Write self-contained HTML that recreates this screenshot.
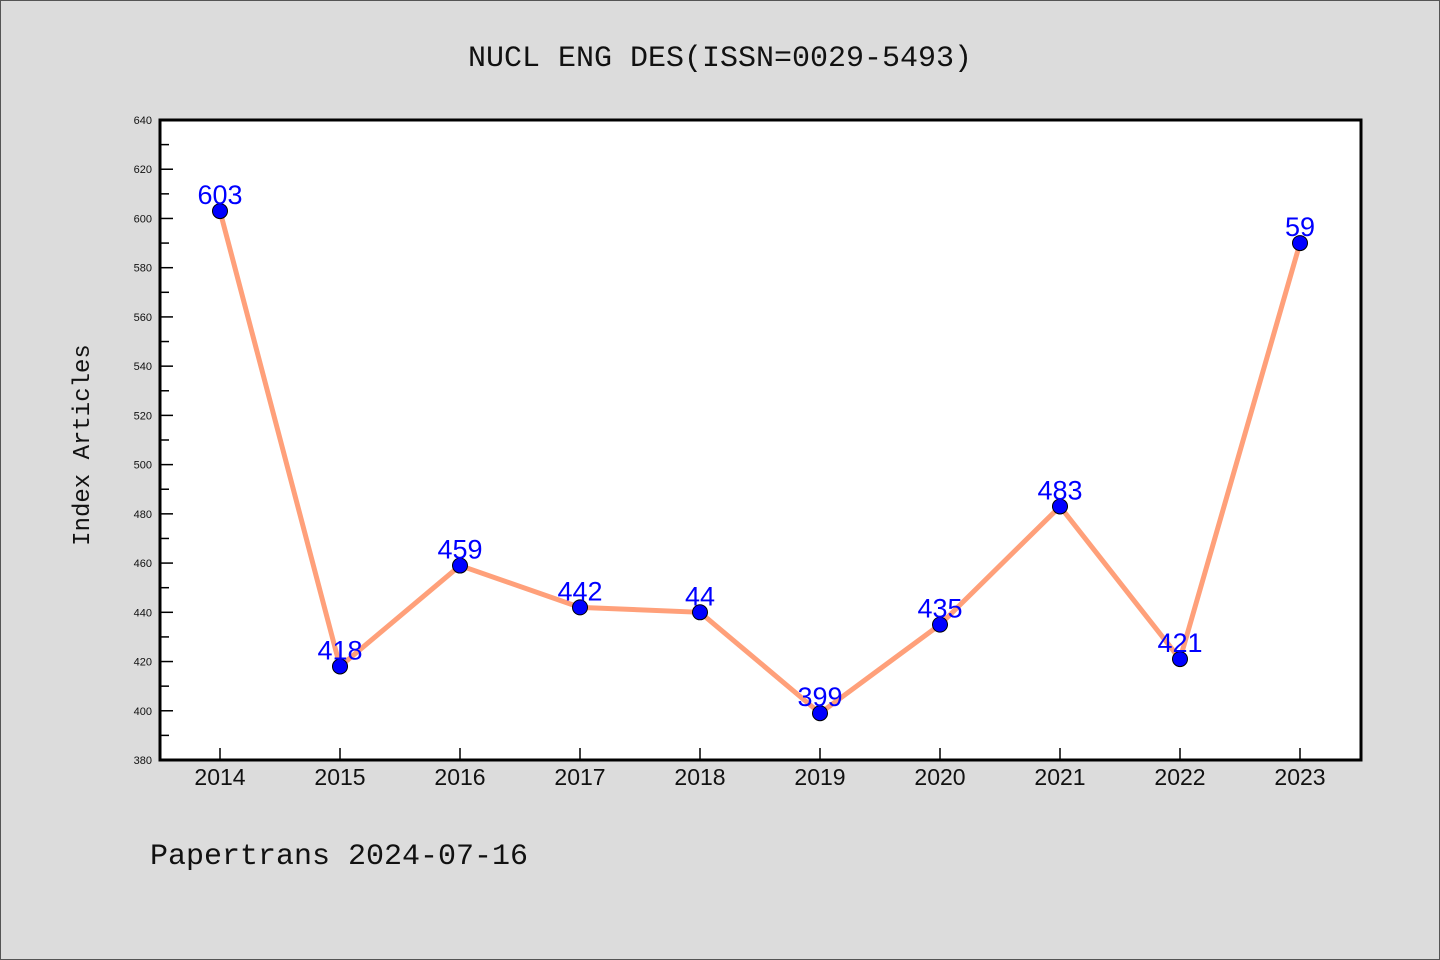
<!DOCTYPE html>
<html><head><meta charset="utf-8"><style>
body{margin:0;background:#dcdcdc;}
svg{display:block;}
text{font-family:"Liberation Sans",sans-serif;}
.mono{font-family:"Liberation Mono","DejaVu Sans Mono",monospace;}
</style></head><body>
<svg width="1440" height="960">
<rect x="0.5" y="0.5" width="1439" height="959" fill="#dcdcdc" stroke="#555"/>
<text class="mono" x="720" y="66" text-anchor="middle" font-size="30" fill="#111">NUCL ENG DES(ISSN=0029-5493)</text>
<rect x="160" y="120" width="1201" height="640" fill="#fff" stroke="#000" stroke-width="3"/>
<text class="mono" transform="translate(89,445) rotate(-90)" text-anchor="middle" font-size="24" fill="#111">Index Articles</text>
<text class="mono" x="150" y="864" font-size="30" fill="#111">Papertrans 2024-07-16</text>
<g id="axes"></g><g id="series"></g>
</svg>
<script>
const categories=["2014","2015","2016","2017","2018","2019","2020","2021","2022","2023"];
const values=[603,418,459,442,440,399,435,483,421,590];
const printedLabels=["603","418","459","442","44","399","435","483","421","59"];
const yTicks=[380,400,420,440,460,480,500,520,540,560,580,600,620,640];
const NS="http://www.w3.org/2000/svg";
const y=v=>760-(v-380)*640/260;
const x=i=>220+i*120;
function mk(t,a,p){const e=document.createElementNS(NS,t);for(const k in a)e.setAttribute(k,a[k]);p.appendChild(e);return e;}
const ax=document.getElementById('axes'),sr=document.getElementById('series');
yTicks.forEach((v,i)=>{
 const l=mk('line',{x1:160,x2:173,y1:y(v),y2:y(v),stroke:'#000','stroke-width':1.5},ax);
 
 
 const t=mk('text',{x:152,y:y(v)+4,'text-anchor':'end','font-size':11,fill:'#111'},ax);
 t.textContent=v;
 
 
 if(i<yTicks.length-1){const m=mk('line',{x1:160,x2:169,y1:y(v+10),y2:y(v+10),stroke:'#000','stroke-width':1.5},ax);
 
 }
});
categories.forEach((c,i)=>{
 const l=mk('line',{x1:x(i),x2:x(i),y1:760,y2:748,stroke:'#000','stroke-width':1.5},ax);
 
 
 const t=mk('text',{x:x(i),y:785,'text-anchor':'middle','font-size':23,fill:'#111'},ax);
 t.textContent=c;
 
 
});
const pl=mk('polyline',{points:values.map((v,i)=>x(i)+','+y(v)).join(' '),fill:'none',stroke:'#ffa07a','stroke-width':5},sr);


values.forEach((v,i)=>{
 const c=mk('circle',{cx:x(i),cy:y(v),r:7.5,fill:'#0000ff',stroke:'#000','stroke-width':1},sr);
 
 
 const t=mk('text',{x:x(i),y:y(v)-7,'text-anchor':'middle','font-size':27,fill:'#0000ff'},sr);
 t.textContent=printedLabels[i];
 
 
});
</script>
</body></html>
